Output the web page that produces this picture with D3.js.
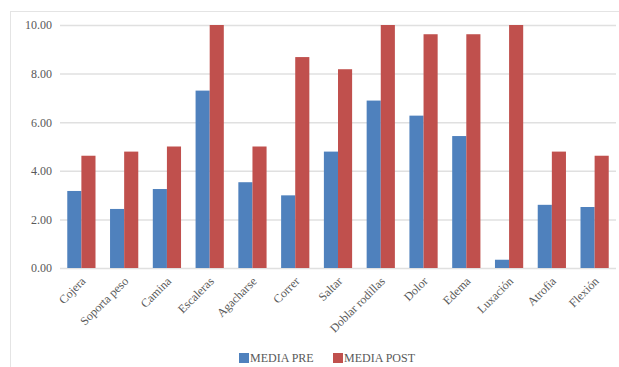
<!DOCTYPE html>
<html>
<head>
<meta charset="utf-8">
<script src="https://cdn.jsdelivr.net/npm/d3@7"></script>
<style>
  body { margin: 0; background: #fff; }
  svg { display: block; font-family: "Liberation Serif", "Times New Roman", serif; }
</style>
</head>
<body>
<svg id="chart"></svg>
<script>
// Data
const categories = ['Cojera', 'Soporta peso', 'Camina', 'Escaleras', 'Agacharse', 'Correr',
  'Saltar', 'Doblar rodillas', 'Dolor', 'Edema', 'Luxación', 'Atrofia', 'Flexión'];
const mediaPre = [3.17, 2.43, 3.25, 7.30, 3.53, 2.99, 4.79, 6.89, 6.27, 5.43, 0.34, 2.60, 2.51];
const mediaPost = [4.62, 4.79, 5.00, 10.00, 5.00, 8.68, 8.18, 10.00, 9.62, 9.62, 10.00, 4.79, 4.62];
const seriesNames = ['MEDIA PRE', 'MEDIA POST'];
const yTicks = [0, 2, 4, 6, 8, 10];

const W = 619, H = 367;
const margin = { top: 25, right: 3, bottom: 99, left: 60 };
const width = W - margin.left - margin.right;
const height = H - margin.top - margin.bottom;
const colors = ['#4F81BD', '#C0504D'];

const svg = d3.select('#chart').attr('width', W).attr('height', H);

// chart frame
svg.append('rect')
  .attr('x', 10.5).attr('y', 11.5)
  .attr('width', W).attr('height', H)
  .attr('fill', 'none').attr('stroke', '#e4e4e4');

const g = svg.append('g').attr('transform', `translate(${margin.left},${margin.top})`);

const x0 = d3.scaleBand().domain(categories).range([0, width]).paddingInner(0.34).paddingOuter(0.17);
const x1 = d3.scaleBand().domain(seriesNames).range([0, x0.bandwidth()]);
const y = d3.scaleLinear().domain([0, 10]).range([height, 0]);

// gridlines + y labels
const yAxis = g.append('g')
  .call(d3.axisLeft(y).tickValues(yTicks).tickSize(-width).tickPadding(8).tickFormat(d3.format('.2f')));
yAxis.select('.domain').remove();
yAxis.selectAll('.tick line').attr('stroke', '#e0e0e0').attr('stroke-width', 1.5);
yAxis.selectAll('.tick text')
  .attr('fill', '#595959').style('font-size', '12px')
  .style('font-family', '"Liberation Serif", serif');

// bars
const rows = categories.map((c, i) => ({ cat: c, vals: [mediaPre[i], mediaPost[i]] }));
g.append('g').selectAll('g')
  .data(rows)
  .enter().append('g')
  .attr('transform', d => `translate(${x0(d.cat)},0)`)
  .selectAll('rect')
  .data(d => d.vals.map((v, k) => ({ key: seriesNames[k], v, k })))
  .enter().append('rect')
  .attr('x', d => x1(d.key))
  .attr('y', d => y(d.v))
  .attr('width', x1.bandwidth())
  .attr('height', d => height - y(d.v))
  .attr('fill', d => colors[d.k]);

// x axis labels
const xAxis = g.append('g')
  .attr('transform', `translate(0,${height})`)
  .call(d3.axisBottom(x0).tickSize(0).tickPadding(0));
xAxis.select('.domain').remove();
xAxis.selectAll('.tick text')
  .attr('fill', '#595959').style('font-size', '12px')
  .style('font-family', '"Liberation Serif", serif')
  .attr('text-anchor', 'end')
  .attr('dy', 0)
  .attr('transform', 'translate(5,14) rotate(-45)');

// legend
const legend = svg.append('g').attr('transform', 'translate(239,358)');
const legendX = [0, 94];
seriesNames.forEach((name, k) => {
  const lg = legend.append('g').attr('transform', `translate(${legendX[k]},0)`);
  lg.append('rect').attr('x', 0).attr('y', -5).attr('width', 10).attr('height', 10).attr('fill', colors[k]);
  lg.append('text').attr('x', 11).attr('y', 4)
    .attr('fill', '#595959').style('font-size', '12px').text(name);
});
</script>
</body>
</html>
